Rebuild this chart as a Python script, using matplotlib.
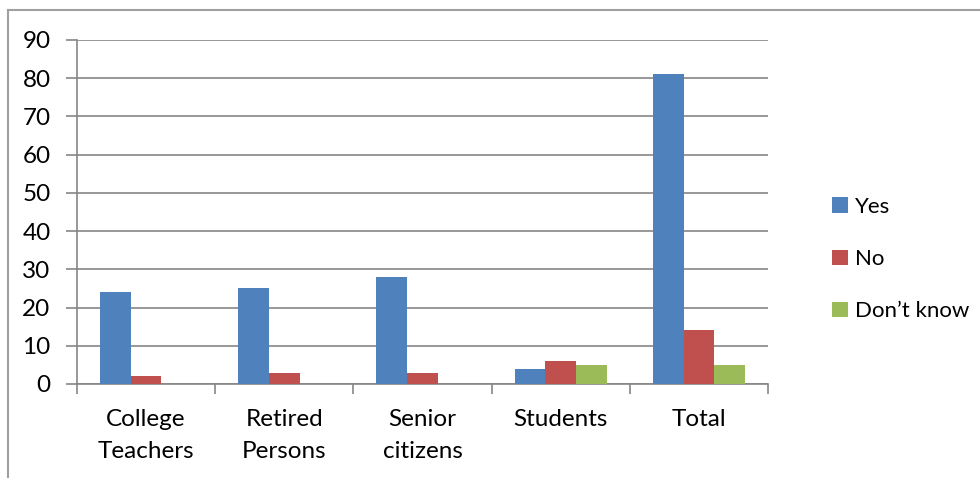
import numpy as np
from matplotlib import pyplot as plt
from matplotlib.lines import Line2D

categories = ["College\nTeachers", "Retired\nPersons", "Senior\ncitizens", "Students", "Total"]
yes = [24, 25, 28, 4, 81]
no = [2, 3, 3, 6, 14]
dont_know = [0, 0, 0, 5, 5]
series = [("Yes", yes, "#4f81bd"), ("No", no, "#c0504d"), ("Don\u2019t know", dont_know, "#9bbb59")]

plt.rcParams['font.family'] = ['Lato', 'DejaVu Sans']

fig = plt.figure(figsize=(9.8, 4.78), dpi=100)
ax = fig.add_axes([77 / 980, 1 - 384 / 478, (768 - 77) / 980, (384 - 40) / 478])

x = np.arange(len(categories))
width = 1 / 4.5
for i, (name, vals, col) in enumerate(series):
    ax.bar(x + (i - 1) * width, vals, width, color=col, label=name, zorder=3)

grey = "#868686"
fs = 17.5
ax.set_xlim(-0.5, len(categories) - 0.5)
ax.set_ylim(0, 90)
ax.set_yticks(range(0, 91, 10))
ax.yaxis.grid(True, color=grey, linewidth=1.2, zorder=0)
ax.set_xticks(x)
ax.set_xticklabels(categories, fontsize=fs, linespacing=1.65)
ax.set_xticks(np.arange(-0.5, len(categories)), minor=True)
ax.tick_params(axis='x', which='major', length=0, pad=18)
ax.tick_params(axis='x', which='minor', length=7, width=1.2, color=grey)
ax.tick_params(axis='y', length=8, width=1.2, color=grey, labelsize=fs, pad=11)
for side in ("top", "right"):
    ax.spines[side].set_visible(False)
for side in ("left", "bottom"):
    ax.spines[side].set_color(grey)
    ax.spines[side].set_linewidth(1.2)

# legend on the right
ax.legend(loc="center left", bbox_to_anchor=(0.829, 0.458), bbox_transform=fig.transFigure,
          frameon=False, fontsize=16, handlelength=0.7, handleheight=0.7,
          handletextpad=0.3, labelspacing=1.45)

# outer chart border (only top and left visible)
fig.add_artist(Line2D([8 / 980, 8 / 980], [0, 1 - 10 / 478], color="#a0a0a0", linewidth=1.5))
fig.add_artist(Line2D([8 / 980, 1], [1 - 10 / 478, 1 - 10 / 478], color="#a0a0a0", linewidth=1.5))

fig.savefig("out.png", dpi=100)
